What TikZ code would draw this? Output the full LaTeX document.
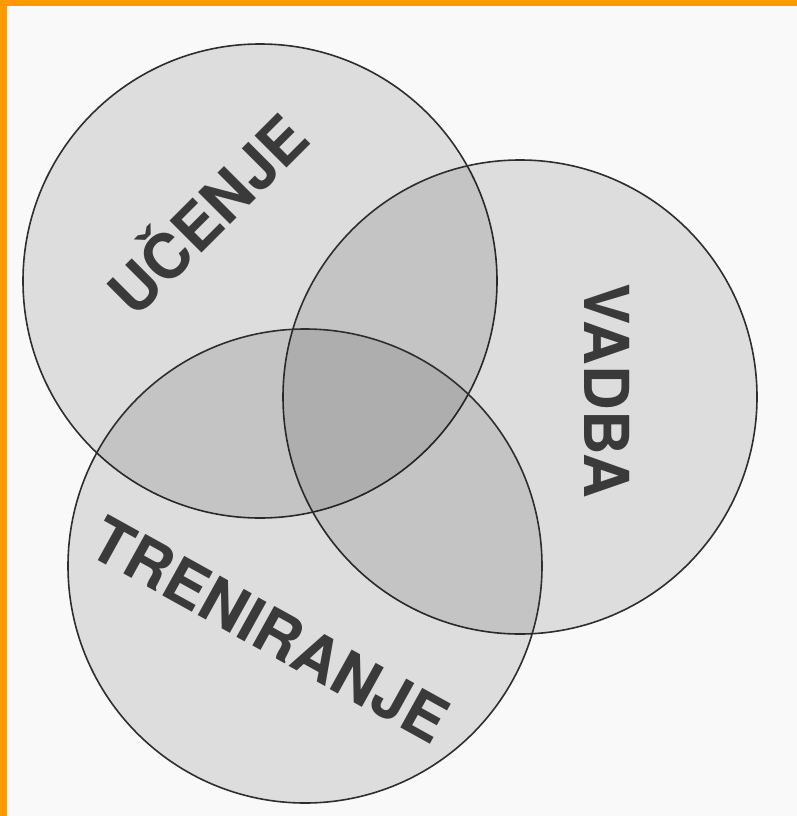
\documentclass[tikz,border=0pt]{standalone}
\usepackage{fontspec}
\setmainfont{TeX Gyre Heros}
\usepackage{tikz}
\usepackage{xcolor}
\usetikzlibrary{positioning}

\definecolor{pageorange}{HTML}{FF9900}
\definecolor{rimgray}{HTML}{2E2E2E}
\definecolor{wordgray}{HTML}{3A3A3A}

\tikzset{
	venn/.style={draw=rimgray, circle, line width=1.6pt, fill=black, fill opacity=0.11, text opacity=1, minimum size=474pt, inner sep=0pt},
	word/.style={text=wordgray, font=\fontsize{62}{62}\selectfont\bfseries, inner sep=0pt}
}

\begin{document}
\begin{tikzpicture}[x=1pt, y=-1pt]
				\useasboundingbox (0,0) rectangle (797,816);
				\fill[gray!5] (0,0) rectangle (797,816);
				\fill[pageorange] (0,0) rectangle (797,6);
				\fill[pageorange] (0,0) rectangle (7,816);
				% the three sets
				\node[venn] (ucenje) at (260, 281) {};
				\node[venn] (vadba) at (520, 397) {};
				\node[venn] (treniranje) at (305, 566) {};
				% labels
				\node[word, rotate=45] (lucenje) at (204, 211) {UČENJE};
				\node[word, rotate=-90] (lvadba) at (607, 391) {VADBA};
				\node[word, rotate=-29] (ltreniranje) at (270, 630) {TRENIRANJE};
			\end{tikzpicture}
\end{document}
